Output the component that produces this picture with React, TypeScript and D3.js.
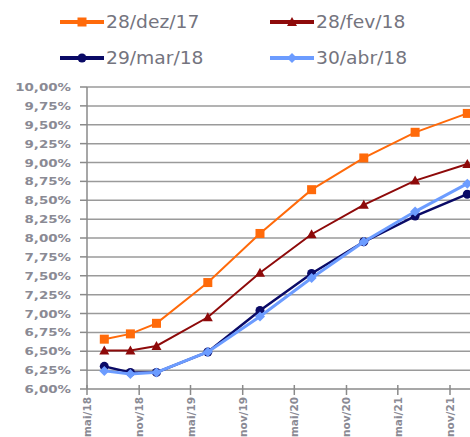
import React from "react";
import * as d3 from "d3";

const dates = ["2018-07-01", "2018-10-01", "2019-01-01", "2019-07-01", "2020-01-01", "2020-07-01", "2021-01-01", "2021-07-01", "2022-01-01"];
const dez17 = [6.66, 6.73, 6.87, 7.41, 8.06, 8.64, 9.06, 9.40, 9.65];
const fev18 = [6.51, 6.51, 6.57, 6.95, 7.54, 8.05, 8.44, 8.76, 8.98];
const mar18 = [6.30, 6.22, 6.22, 6.49, 7.04, 7.53, 7.95, 8.29, 8.58];
const abr18 = [6.24, 6.20, 6.22, 6.49, 6.96, 7.47, 7.95, 8.35, 8.72];
const seriesNames = ["28/dez/17", "28/fev/18", "29/mar/18", "30/abr/18"];
const xTickDates = ["2018-05-01", "2018-11-01", "2019-05-01", "2019-11-01", "2020-05-01", "2020-11-01", "2021-05-01", "2021-11-01"];
const xTickLabels = ["mai/18", "nov/18", "mai/19", "nov/19", "mai/20", "nov/20", "mai/21", "nov/21"];
const yTicks = d3.range(6, 10.001, 0.25);

const W = 470, H = 437;
const left = 87, bottom = 389, top = 87, right = 470;

export default function App() {
  const parse = d3.timeParse("%Y-%m-%d");
  const x = d3.scaleTime().domain([parse("2018-05-01")!, parse("2021-11-01")!]).range([87, 450]);
  const y = d3.scaleLinear().domain([6, 10]).range([bottom, top]);
  const fmt = (v: number) => v.toFixed(2).replace(".", ",") + "%";

  const styles = [
    { color: "#ff6a0a", width: 2, marker: "square" },
    { color: "#8e0a0a", width: 2, marker: "triangle" },
    { color: "#0a0a66", width: 2.5, marker: "circle" },
    { color: "#6c9cff", width: 3, marker: "diamond" },
  ];
  const allSeries = [dez17, fev18, mar18, abr18];
  const line = d3.line<[Date, number]>().x((d) => x(d[0])).y((d) => y(d[1]));

  const marker = (type: string, cx: number, cy: number, color: string, key: any) => {
    if (type === "square") return <rect key={key} x={cx - 4.5} y={cy - 4.5} width={9} height={9} fill={color} />;
    if (type === "triangle") return <path key={key} d={`M${cx},${cy - 5}L${cx + 5},${cy + 4}L${cx - 5},${cy + 4}Z`} fill={color} />;
    if (type === "circle") return <circle key={key} cx={cx} cy={cy} r={4.5} fill={color} />;
    return <path key={key} d={`M${cx},${cy - 5}L${cx + 5},${cy}L${cx},${cy + 5}L${cx - 5},${cy}Z`} fill={color} />;
  };

  const legendPos = [
    { x: 60, y: 22 },
    { x: 270, y: 22 },
    { x: 60, y: 58 },
    { x: 270, y: 58 },
  ];

  return (
    <svg width={W} height={H} style={{ position: "absolute", left: 0, top: 0, background: "#fff" }} fontFamily="DejaVu Sans, Verdana, sans-serif">
      <defs>
        <clipPath id="clip">
          <rect x={0} y={0} width={W} height={H} />
        </clipPath>
      </defs>
      {yTicks.map((t, i) => (
        <g key={i}>
          {i > 0 && <line x1={left} x2={right} y1={y(t)} y2={y(t)} stroke="#9a9a9a" strokeWidth={1.5} />}
          <line x1={left - 7} x2={left} y1={y(t)} y2={y(t)} stroke="#8a8a8a" strokeWidth={1.5} />
          <text transform={`translate(71,${y(t) + 4}) scale(1.22,1)`} textAnchor="end" fontSize={11} fontWeight="bold" fill="#8a8a94">
            {fmt(t)}
          </text>
        </g>
      ))}
      <line x1={left} x2={left} y1={top} y2={bottom} stroke="#8a8a8a" strokeWidth={1.5} />
      <line x1={left} x2={right} y1={bottom} y2={bottom} stroke="#8a8a8a" strokeWidth={1.5} />
      {xTickDates.map((d, i) => {
        const tx = x(parse(d)!);
        return (
          <g key={i}>
            <line x1={tx} x2={tx} y1={bottom - 4} y2={bottom + 6} stroke="#8a8a8a" strokeWidth={1.5} />
            <text transform={`translate(${tx + 4},${bottom + 8}) rotate(-90)`} textAnchor="end" fontSize={10.5} fontWeight="bold" fill="#8a8a94">
              {xTickLabels[i]}
            </text>
          </g>
        );
      })}
      <g clipPath="url(#clip)">
        {allSeries.map((vals, si) => {
          const pts: [Date, number][] = vals.map((v, i) => [parse(dates[i])!, v]);
          const st = styles[si];
          return (
            <g key={si}>
              <path d={line(pts) || ""} fill="none" stroke={st.color} strokeWidth={st.width} />
              {pts.map((p, i) => marker(st.marker, x(p[0]), y(p[1]), st.color, i))}
            </g>
          );
        })}
      </g>
      {seriesNames.map((name, i) => {
        const p = legendPos[i];
        const st = styles[i];
        return (
          <g key={i}>
            <line x1={p.x} x2={p.x + 44} y1={p.y} y2={p.y} stroke={st.color} strokeWidth={4} />
            {marker(st.marker, p.x + 22, p.y, st.color, "m")}
            <text transform={`translate(${p.x + 46},${p.y + 6}) scale(1.1,1)`} fontSize={17} fill="#74747e">
              {name}
            </text>
          </g>
        );
      })}
    </svg>
  );
}
